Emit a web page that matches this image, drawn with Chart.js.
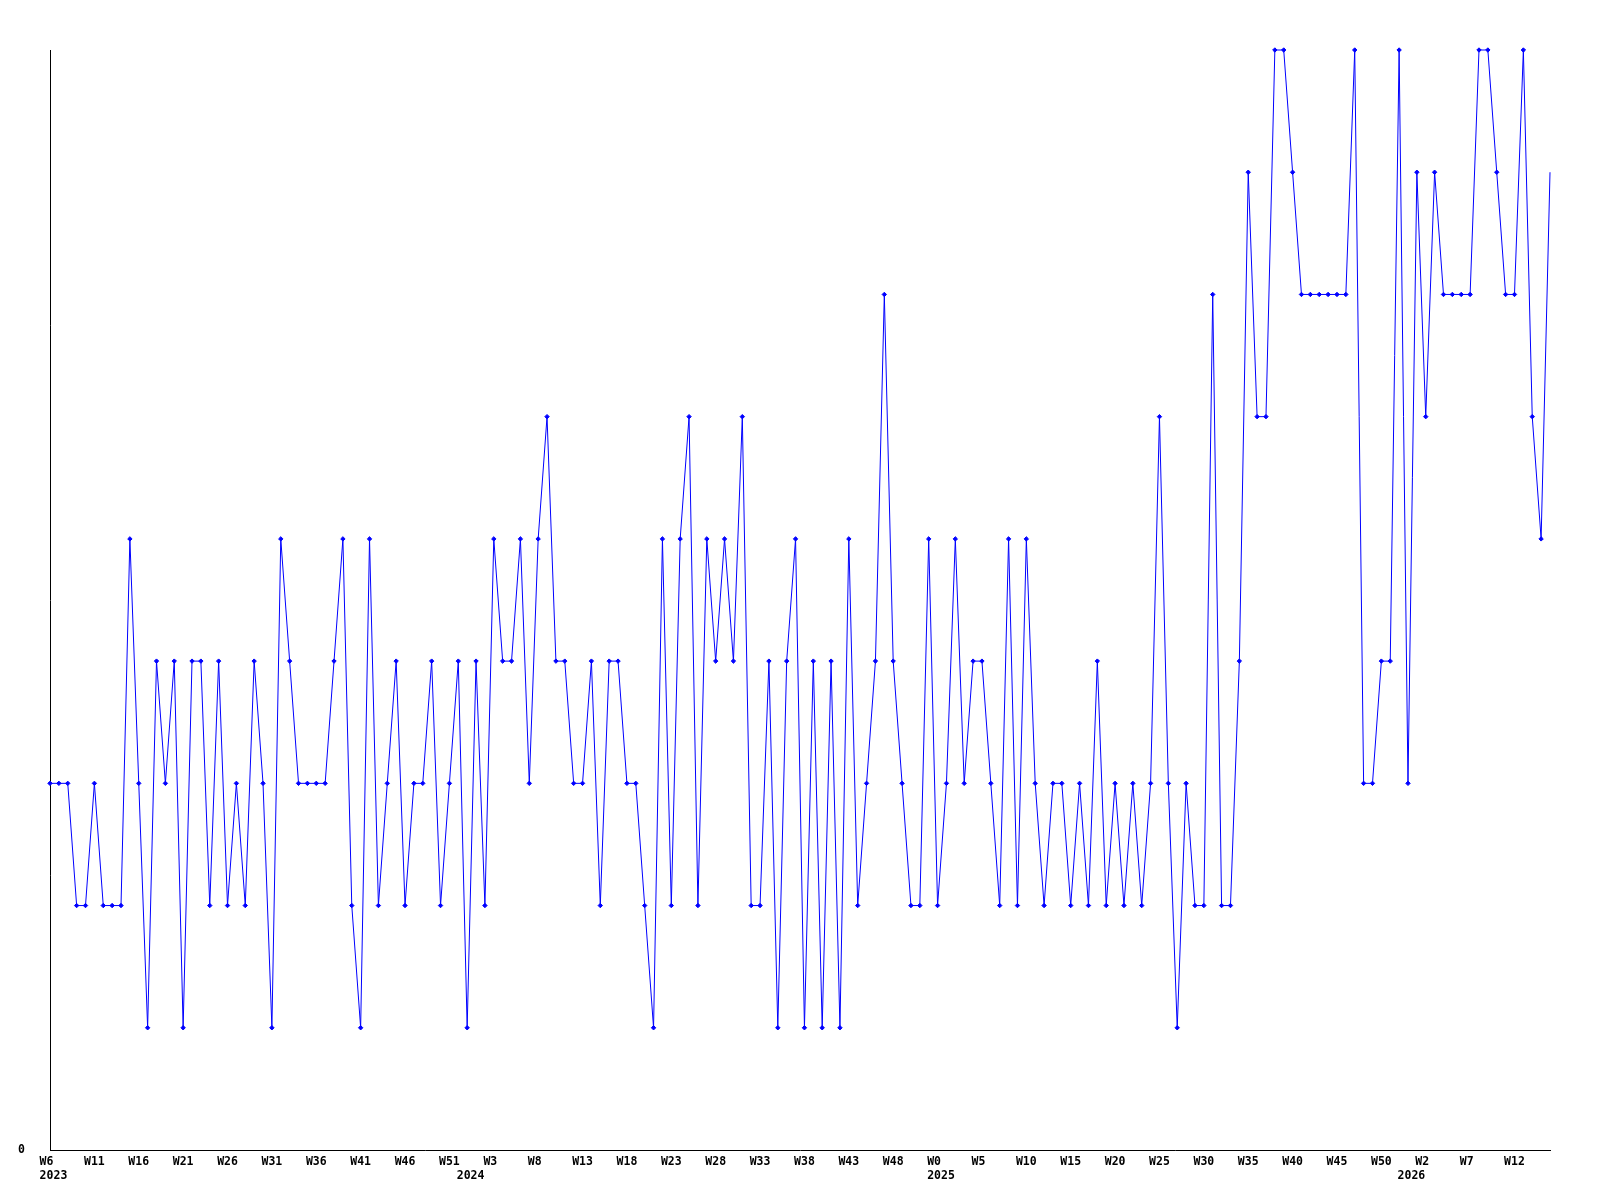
<!DOCTYPE html>
<html>
<head>
<meta charset="utf-8">
<title>Weekly chart</title>
<script src="https://cdn.jsdelivr.net/npm/chart.js@4.4.1/dist/chart.umd.min.js"></script>
<style>
  html, body { margin: 0; padding: 0; background: #ffffff; }
  #weeklyChart { display: block; }
</style>
</head>
<body>
<canvas id="weeklyChart" width="1600" height="1200"></canvas>
<script>
// Week ranges per year (weeks are numbered W0..W52)
const years = [2023, 2024, 2025, 2026];
const firstWeek = [6, 0, 0, 0];
const lastWeek = [52, 52, 52, 16];

// One value per week
const weeklyValues = [
  3, 3, 3, 2, 2, 3, 2, 2, 2, 5, 3, 1, 4, 3, 4, 1, 4, 4, 2, 4,
  2, 3, 2, 4, 3, 1, 5, 4, 3, 3, 3, 3, 4, 5, 2, 1, 5, 2, 3, 4,
  2, 3, 3, 4, 2, 3, 4, 1, 4, 2, 5, 4, 4, 5, 3, 5, 6, 4, 4, 3,
  3, 4, 2, 4, 4, 3, 3, 2, 1, 5, 2, 5, 6, 2, 5, 4, 5, 4, 6, 2,
  2, 4, 1, 4, 5, 1, 4, 1, 4, 1, 5, 2, 3, 4, 7, 4, 3, 2, 2, 5,
  2, 3, 5, 3, 4, 4, 3, 2, 5, 2, 5, 3, 2, 3, 3, 2, 3, 2, 4, 2,
  3, 2, 3, 2, 3, 6, 3, 1, 3, 2, 2, 7, 2, 2, 4, 8, 6, 6, 9, 9,
  8, 7, 7, 7, 7, 7, 7, 9, 3, 3, 4, 4, 9, 3, 8, 6, 8, 7, 7, 7,
  7, 9, 9, 8, 7, 7, 9, 6, 5, 8
];

const labelEvery = 5;
const yMin = 0;
const yMax = 9;

document.addEventListener("DOMContentLoaded", function() {
  const ctx = document.getElementById("weeklyChart").getContext("2d");

  // build category list, remembering which year each week belongs to
  const weekLabels = [];
  const weekYears = [];
  const yearStart = [];
  years.forEach(function(year, i) {
    for (let w = firstWeek[i]; w <= lastWeek[i]; w++) {
      yearStart.push(w === firstWeek[i]);
      weekLabels.push("W" + w);
      weekYears.push(year);
    }
  });

  const axisFont = { family: "'DejaVu Sans Mono', monospace", size: 11.5, weight: "bold", lineHeight: "14px" };

  // last point sits on the right edge without a marker
  const pointSizes = weeklyValues.map(function(v, i) {
    return i === weeklyValues.length - 1 ? 0 : 2.2;
  });

  new Chart(ctx, {
    type: 'line',
    data: {
      labels: weekLabels,
      datasets: [{
        data: weeklyValues,
        borderColor: '#0000ff',
        backgroundColor: '#0000ff',
        borderWidth: 1,
        pointStyle: 'rectRot',
        pointRadius: pointSizes,
        pointBorderWidth: 1,
        pointHoverRadius: pointSizes,
        tension: 0,
        fill: false,
        clip: false
      }]
    },
    options: {
      responsive: false,
      animation: false,
      devicePixelRatio: 1,
      layout: { padding: { top: 50, right: 50, left: 0, bottom: 0 } },
      plugins: {
        legend: { display: false },
        tooltip: { enabled: false }
      },
      scales: {
        x: {
          type: 'category',
          offset: false,
          grid: { display: false, drawTicks: false },
          border: { display: true, color: '#000000', width: 1 },
          afterFit: function(scale) { scale.height = 50; },
          ticks: {
            autoSkip: false,
            maxRotation: 0,
            minRotation: 0,
            padding: 5,
            color: '#000000',
            font: axisFont,
            callback: function(value, index) {
              let text = "";
              if (index % labelEvery === 0) {
                text = weekLabels[index];
                if (text.length < 3) text = text + " ";
              }
              // year goes under the first week of each year
              if (yearStart[index]) {
                return [text, " " + weekYears[index]];
              }
              return text === "" ? null : text;
            }
          }
        },
        y: {
          min: yMin,
          max: yMax,
          grid: { display: false, drawTicks: false },
          border: { display: true, color: '#000000', width: 1 },
          afterFit: function(scale) { scale.width = 50; },
          ticks: {
            stepSize: yMax,
            padding: 25,
            color: '#000000',
            font: axisFont,
            callback: function(value) {
              return value === 0 ? "0" : null;
            }
          }
        }
      }
    }
  });
});
</script>
</body>
</html>
